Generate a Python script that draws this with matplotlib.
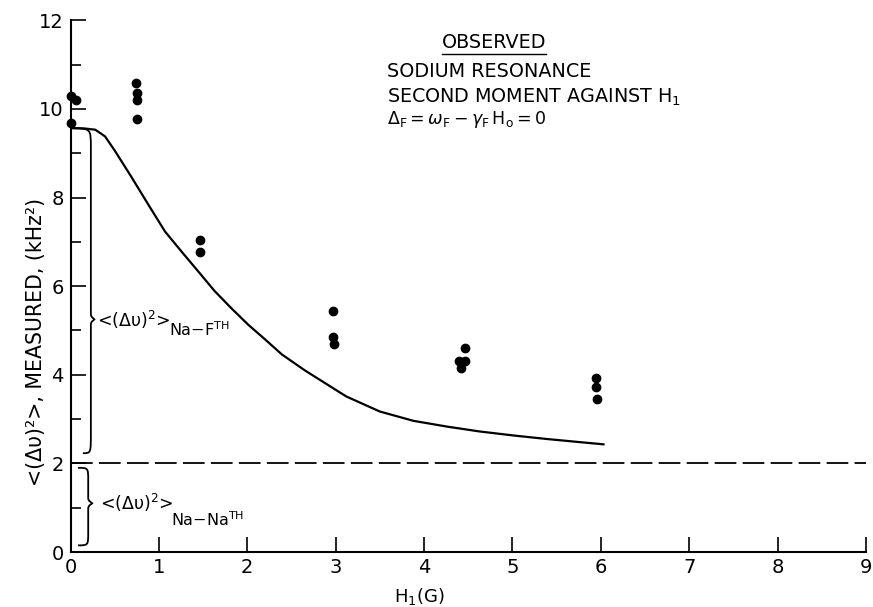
import matplotlib
matplotlib.use("Agg")
import matplotlib.pyplot as plt
from matplotlib.path import Path
from matplotlib.patches import PathPatch

plt.rcParams['font.family'] = ['DejaVu Sans']
plt.rcParams['mathtext.fontset'] = 'dejavusans'

# ---- data ----
obs_h1 = [0.0, 0.06, 0.0, 0.74, 0.75, 0.75, 0.75, 1.47, 1.47,
          2.97, 2.97, 2.98, 4.46, 4.39, 4.46, 4.42, 5.95, 5.95, 5.96]
obs_m2 = [10.30, 10.20, 9.68, 10.58, 10.35, 10.20, 9.77, 7.04, 6.78,
          5.44, 4.86, 4.70, 4.60, 4.30, 4.30, 4.16, 3.93, 3.73, 3.45]

theory_h1 = [0.0, 0.15, 0.28, 0.39, 0.50, 0.69, 0.88, 1.07, 1.26, 1.45, 1.63,
             1.82, 2.01, 2.20, 2.39, 2.65, 3.12, 3.50, 3.88, 4.26, 4.63, 5.01,
             5.39, 5.76, 6.03]
theory_m2 = [9.57, 9.56, 9.53, 9.38, 9.06, 8.46, 7.84, 7.23, 6.77, 6.32, 5.89,
             5.50, 5.13, 4.80, 4.46, 4.10, 3.51, 3.17, 2.96, 2.83, 2.72, 2.63,
             2.55, 2.48, 2.43]

nana_h1 = [0.0, 9.0]
nana_m2 = [2.0, 2.0]

x_ticks = [0, 1, 2, 3, 4, 5, 6, 7, 8, 9]
y_ticks = [0, 2, 4, 6, 8, 10, 12]
y_minor = [1, 3, 5, 7, 9, 11]

title_lines = ["SODIUM RESONANCE", "SECOND MOMENT AGAINST H$_\\mathregular{1}$",
               r"$\Delta_\mathrm{F}=\omega_\mathrm{F}-\gamma_\mathrm{F}\,\mathrm{H}_\mathrm{o}=\mathrm{0}$"]

fig = plt.figure(figsize=(8.73, 6.07), dpi=100)
ax = fig.add_axes([0.0808, 0.0906, 0.9112, 0.876])

ax.plot(theory_h1, theory_m2, color='black', lw=1.6)
ax.plot(nana_h1, nana_m2, color='black', lw=1.3, dashes=(12, 3.5))
ax.plot(obs_h1, obs_m2, 'o', color='black', ms=6, clip_on=False, zorder=5)

ax.set_xlim(0, 9)
ax.set_ylim(0, 12)
ax.set_xticks(x_ticks)
ax.set_yticks(y_ticks)
ax.set_yticks(y_minor, minor=True)
for s in ('top', 'right'):
    ax.spines[s].set_visible(False)
for s in ('left', 'bottom'):
    ax.spines[s].set_linewidth(1.5)
ax.tick_params(which='major', direction='in', length=11, width=1.2,
               labelsize=14, pad=5)
ax.tick_params(axis='x', pad=4)
ax.tick_params(which='minor', direction='in', length=7, width=1.2)

# axis labels
ax.set_xlabel("H$_\\mathregular{1}$(G)", fontsize=13)
ax.xaxis.set_label_coords(0.439, -0.064)
ax.text(-0.043, 0.395, "<(Δυ)²>, MEASURED, (kHz²)", transform=ax.transAxes,
        rotation=90, ha='center', va='center', fontsize=14.8)

# title block
t1 = ax.text(4.79, 11.49, "OBSERVED", ha='center', va='center', fontsize=13.8)
ax.text(3.58, 10.84, title_lines[0], ha='left', va='center', fontsize=13.8)
ax.text(3.58, 10.27, title_lines[1], ha='left', va='center', fontsize=13.8)
ax.text(3.58, 9.75, title_lines[2], ha='left', va='center', fontsize=12.5)

# braces
def brace(x_end_top, y_top, x_end_bot, y_bot, x_stem, x_tip, y_tip, c, d):
    verts = [(x_end_top, y_top),
             (x_stem, y_top), (x_stem, y_top), (x_stem, y_top - c),
             (x_stem, y_tip + d),
             (x_stem, y_tip + 0.3 * d), (x_tip, y_tip + 0.1 * d), (x_tip, y_tip),
             (x_tip, y_tip - 0.1 * d), (x_stem, y_tip - 0.3 * d), (x_stem, y_tip - d),
             (x_stem, y_bot + c),
             (x_stem, y_bot), (x_stem, y_bot), (x_end_bot, y_bot)]
    codes = [Path.MOVETO,
             Path.CURVE4, Path.CURVE4, Path.CURVE4,
             Path.LINETO,
             Path.CURVE4, Path.CURVE4, Path.CURVE4,
             Path.CURVE4, Path.CURVE4, Path.CURVE4,
             Path.LINETO,
             Path.CURVE4, Path.CURVE4, Path.CURVE4]
    ax.add_patch(PathPatch(Path(verts, codes), fill=False, lw=1.3,
                           edgecolor='black', clip_on=False))

brace(0.02, 9.56, 0.14, 2.23, 0.23, 0.27, 5.25, 0.45, 0.12)
brace(0.085, 1.9, 0.085, 0.15, 0.20, 0.245, 1.1, 0.3, 0.12)

m1 = ax.text(0.30, 5.08, r"<(Δυ)$^\mathregular{2}$>", ha='left', va='baseline',
             fontsize=12.5)
m2 = ax.text(0.33, 0.95, r"<(Δυ)$^\mathregular{2}$>", ha='left', va='baseline',
             fontsize=12.5)

fig.canvas.draw()
inv = ax.transData.inverted()
e1 = m1.get_window_extent().transformed(inv)
e2 = m2.get_window_extent().transformed(inv)
ax.text(e1.x1 - 0.02, 4.88, r"Na$-$F$^\mathregular{TH}$", ha='left',
        va='baseline', fontsize=11.5)
ax.text(e2.x1 - 0.02, 0.58, r"Na$-$Na$^\mathregular{TH}$", ha='left',
        va='baseline', fontsize=11.5)

# underline for OBSERVED
bb = t1.get_window_extent().transformed(inv)
ax.plot([bb.x0, bb.x1], [bb.y0 - 0.04, bb.y0 - 0.04], color='black', lw=1.0)

fig.savefig("out.png", dpi=100)
